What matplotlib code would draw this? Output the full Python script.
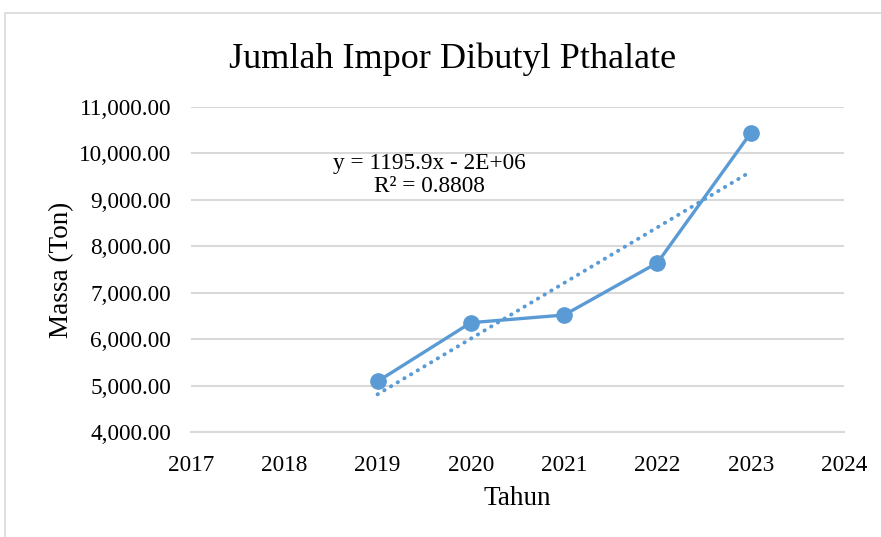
import numpy as np
import matplotlib
matplotlib.use("Agg")
import matplotlib.pyplot as plt
from matplotlib.ticker import FuncFormatter, MultipleLocator
from matplotlib.patches import Rectangle

# data
tahun = np.array([2019, 2020, 2021, 2022, 2023])
massa = np.array([5090, 6355, 6520, 7645, 10440])

judul = "Jumlah Impor Dibutyl Pthalate"
label_x = "Tahun"
label_y = "Massa (Ton)"
persamaan = "y = 1195.9x - 2E+06\nR² = 0.8808"

biru = "#5B9BD5"
abu = "#D9D9D9"

plt.rcParams['font.family'] = ['Liberation Serif', 'DejaVu Serif']

fig = plt.figure(figsize=(8.81, 5.37), dpi=100)
ax = fig.add_axes([0.2168, 0.1955, 0.7412, 0.6052])

# chart border
fig.patches.append(Rectangle((5 / 881, -0.1), 1.2, 1 - 13 / 537 + 0.1,
                             transform=fig.transFigure, fill=False,
                             edgecolor=abu, linewidth=1.2))

# garis data
ax.plot(tahun, massa, color=biru, linewidth=2.4, marker='o', markersize=11,
        zorder=3)

# trendline linear
koef = np.polyfit(tahun, massa, 1)
ax.plot(tahun, np.polyval(koef, tahun), color=biru, linewidth=2.8,
        linestyle=(0, (0.1, 1.9)), dash_capstyle='round', zorder=2)

ax.text(2019.56, 9535, persamaan, ha='center', va='center', fontsize=16.75,
        linespacing=1.12)

ax.set_xlim(2017, 2024)
ax.set_ylim(4000, 11000)
ax.xaxis.set_major_locator(MultipleLocator(1))
ax.yaxis.set_major_locator(MultipleLocator(1000))
ax.yaxis.set_major_formatter(FuncFormatter(lambda v, p: f"{v:,.2f}"))

ax.grid(axis='y', color=abu, linewidth=1.5)
ax.set_axisbelow(True)
for s in ['top', 'right', 'left']:
    ax.spines[s].set_visible(False)
ax.spines['bottom'].set_color(abu)
ax.spines['bottom'].set_linewidth(1.5)
ax.tick_params(length=0, labelsize=16.75)
ax.tick_params(axis='y', pad=14.4)
ax.tick_params(axis='x', pad=16.5)

ax.set_xlabel(label_x, fontsize=19.5, va='center')
ax.set_ylabel(label_y, fontsize=19.5, va='center', ha='center')
ax.xaxis.set_label_coords(0.5, -0.205)
ax.yaxis.set_label_coords(-0.1975, 0.498)
fig.text(0.5136, 0.89, judul, ha='center', va='center', fontsize=26)

fig.savefig("out.png", dpi=100)
